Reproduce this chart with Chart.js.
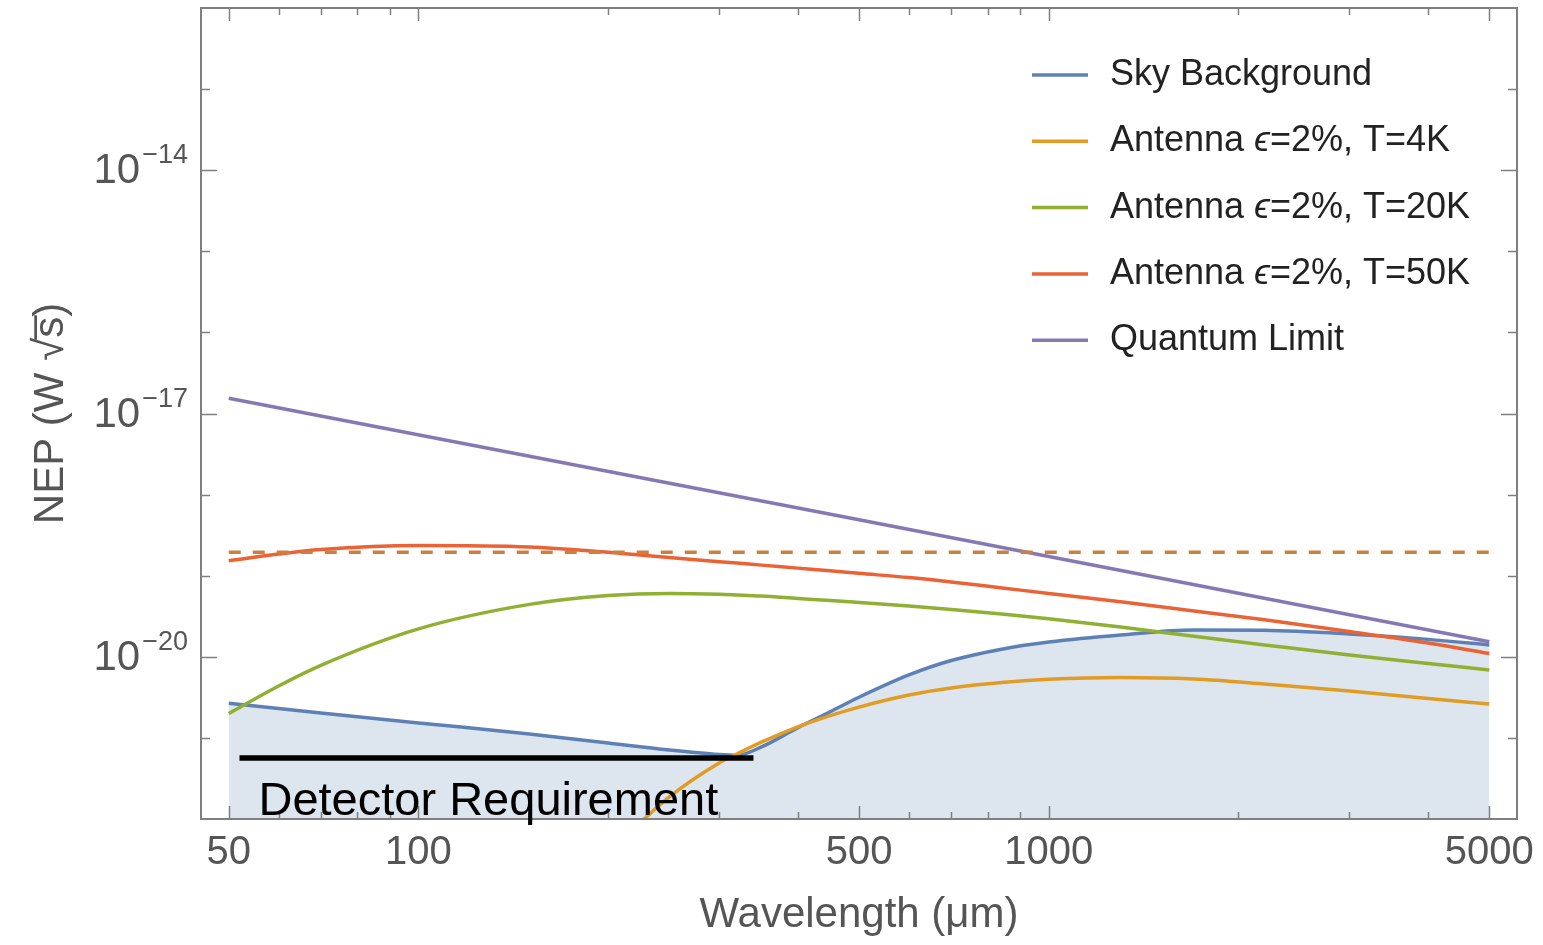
<!DOCTYPE html>
<html>
<head>
<meta charset="utf-8">
<script src="https://cdn.jsdelivr.net/npm/chart.js@4.4.1/dist/chart.umd.min.js"></script>
<style>
  html, body { margin: 0; padding: 0; background: #fff; }
  canvas { display: block; }
</style>
</head>
<body>
<canvas id="nep" width="1543" height="945"></canvas>
<script>
// wavelength in um, NEP in W sqrt(s)
const wavelength = [50, 60, 70, 100, 150, 200, 250, 300, 320, 350, 400, 450, 500, 600, 700, 850, 1000, 1300, 1700, 2200, 3000, 4000, 5000];

const skyBackground = [2.67e-21, 2.31e-21, 2.03e-21, 1.53e-21, 1.12e-21, 8.65e-22, 7.10e-22, 6.24e-22, 6.10e-22, 7.73e-22, 1.34e-21, 2.10e-21, 3.17e-21, 5.97e-21, 8.99e-21, 1.26e-20, 1.52e-20, 1.86e-20, 2.14e-20, 2.12e-20, 1.91e-20, 1.64e-20, 1.40e-20];
const antenna4K = [null, null, null, null, null, 3.8e-23, 1.87e-22, 4.91e-22, 6.32e-22, 8.85e-22, 1.37e-21, 1.88e-21, 2.40e-21, 3.38e-21, 4.12e-21, 4.84e-21, 5.28e-21, 5.56e-21, 5.32e-21, 4.62e-21, 3.79e-21, 3.06e-21, 2.62e-21];
const antenna20K = [2.00e-21, 4.37e-21, 7.85e-21, 2.21e-20, 4.43e-20, 5.70e-20, 6.04e-20, 5.92e-20, 5.80e-20, 5.62e-20, 5.24e-20, 4.94e-20, 4.67e-20, 4.23e-20, 3.83e-20, 3.35e-20, 2.94e-20, 2.33e-20, 1.79e-20, 1.40e-20, 1.05e-20, 8.26e-21, 6.87e-21];
const antenna50K = [1.53e-19, 1.85e-19, 2.10e-19, 2.36e-19, 2.26e-19, 1.94e-19, 1.68e-19, 1.49e-19, 1.43e-19, 1.35e-19, 1.24e-19, 1.15e-19, 1.07e-19, 9.48e-20, 8.36e-20, 7.01e-20, 6.05e-20, 4.76e-20, 3.67e-20, 2.86e-20, 2.05e-20, 1.48e-20, 1.10e-20];

const quantumWavelength = [50, 500, 5000];
const quantumLimit = [1.54e-17, 4.9e-19, 1.53e-20];

const dashedWavelength = [50, 5000];
const dashedLevel = [1.95e-19, 1.95e-19];

const detectorWavelength = [52, 340];
const detectorLevel = [5.65e-22, 5.65e-22];

const seriesLabels = ['Sky Background', 'Antenna ϵ=2%, T=4K', 'Antenna ϵ=2%, T=20K', 'Antenna ϵ=2%, T=50K', 'Quantum Limit'];
const seriesColors = ['#5e81b5', '#e19c24', '#8fb032', '#eb6235', '#8778b3'];

const xLabelTicks = [50, 100, 500, 1000, 5000];
const xMinorTicks = [60, 70, 80, 90, 200, 300, 400, 600, 700, 800, 900, 2000, 3000, 4000];
const yLabelTicks = [1e-20, 1e-17, 1e-14];
const yMinorTicks = [1e-21, 1e-19, 1e-18, 1e-16, 1e-15, 1e-13];

const FONT = '"Liberation Sans", Arial, "DejaVu Sans", sans-serif';

function pairs(xs, ys) {
  return xs.map((x, i) => ({ x: x, y: ys[i] }));
}

const frameTicks = {
  id: 'frameTicks',
  afterDraw(chart) {
    const { ctx, chartArea: a, scales: { x, y } } = chart;
    ctx.save();
    ctx.strokeStyle = '#7f7f7f';
    ctx.lineWidth = 2;
    ctx.strokeRect(a.left, a.top, a.right - a.left, a.bottom - a.top);

    ctx.lineWidth = 1.5;
    ctx.beginPath();
    const xt = (v, len) => {
      const px = Math.round(x.getPixelForValue(v)) + 0.5;
      ctx.moveTo(px, a.bottom); ctx.lineTo(px, a.bottom - len);
      ctx.moveTo(px, a.top); ctx.lineTo(px, a.top + len);
    };
    const yt = (v, len) => {
      const py = Math.round(y.getPixelForValue(v)) + 0.5;
      ctx.moveTo(a.left, py); ctx.lineTo(a.left + len, py);
      ctx.moveTo(a.right, py); ctx.lineTo(a.right - len, py);
    };
    xLabelTicks.forEach(v => xt(v, 13));
    xMinorTicks.forEach(v => xt(v, 7));
    yLabelTicks.forEach(v => yt(v, 16));
    yMinorTicks.forEach(v => yt(v, 9));
    ctx.stroke();

    // y tick labels as 10 with a raised exponent
    ctx.fillStyle = '#555';
    ctx.textAlign = 'right';
    ctx.textBaseline = 'alphabetic';
    yLabelTicks.forEach(v => {
      const py = y.getPixelForValue(v);
      const exp = '\u2212' + String(-Math.round(Math.log10(v)));
      ctx.font = '27px ' + FONT;
      const right = a.left - 13;
      ctx.fillText(exp, right, py - 7);
      const ew = ctx.measureText(exp).width;
      ctx.font = '42px ' + FONT;
      ctx.fillText('10', right - ew - 2, py + 13);
    });
    ctx.textAlign = 'left';

    // legend
    const lx = a.right - 485;
    const ly = a.top + 67;
    ctx.textBaseline = 'middle';
    seriesLabels.forEach((label, i) => {
      const ry = ly + i * 66.3;
      ctx.strokeStyle = seriesColors[i];
      ctx.lineWidth = 3.5;
      ctx.beginPath();
      ctx.moveTo(lx, ry); ctx.lineTo(lx + 56, ry);
      ctx.stroke();
      ctx.fillStyle = '#222';
      let tx = lx + 78;
      label.split(/(ϵ)/).forEach(part => {
        ctx.font = (part === 'ϵ' ? 'italic ' : '') + '36px ' + FONT;
        ctx.fillText(part, tx, ry);
        tx += ctx.measureText(part).width;
      });
    });

    ctx.font = '47px ' + FONT;
    ctx.fillStyle = '#000';
    ctx.textBaseline = 'alphabetic';
    ctx.fillText('Detector Requirement', x.getPixelForValue(detectorWavelength[0]) + 19, a.bottom - 4);
    ctx.restore();
  }
};

new Chart(document.getElementById('nep'), {
  type: 'line',
  data: {
    datasets: [
      { label: seriesLabels[0], data: pairs(wavelength, skyBackground), borderColor: seriesColors[0], backgroundColor: '#dde5ef', fill: 'start', order: 6 },
      { label: seriesLabels[1], data: pairs(wavelength, antenna4K), borderColor: seriesColors[1], order: 5 },
      { label: seriesLabels[2], data: pairs(wavelength, antenna20K), borderColor: seriesColors[2], order: 4 },
      { label: seriesLabels[3], data: pairs(wavelength, antenna50K), borderColor: seriesColors[3], order: 3 },
      { label: seriesLabels[4], data: pairs(quantumWavelength, quantumLimit), borderColor: seriesColors[4], order: 2 },
      { label: 'dashed', data: pairs(dashedWavelength, dashedLevel), borderColor: '#cc8040', borderDash: [12, 12], order: 1 },
      { label: 'Detector Requirement', data: pairs(detectorWavelength, detectorLevel), borderColor: '#000', borderWidth: 5.5, order: 0 }
    ]
  },
  options: {
    responsive: false,
    animation: false,
    devicePixelRatio: 1,
    layout: { padding: { top: 8, right: 26, left: 0, bottom: 0 } },
    plugins: {
      legend: { display: false },
      tooltip: { enabled: false },
      filler: { drawTime: 'beforeDatasetsDraw' }
    },
    elements: {
      point: { radius: 0 },
      line: { borderWidth: 3.5, cubicInterpolationMode: 'monotone', fill: false }
    },
    scales: {
      x: {
        type: 'logarithmic',
        min: 45.18,
        max: 5533,
        grid: { display: false, drawTicks: false },
        border: { display: false },
        afterBuildTicks: s => { s.ticks = xLabelTicks.map(v => ({ value: v })); },
        afterFit: s => { s.height = 126; s.paddingLeft = 0; s.paddingRight = 0; },
        ticks: {
          autoSkip: false, maxRotation: 0, padding: 10, color: '#555',
          font: { family: FONT, size: 40 },
          callback: v => String(v)
        },
        title: {
          display: true, text: 'Wavelength (μm)', color: '#555',
          font: { family: FONT, size: 42 }, padding: { top: 0, bottom: 4 }
        }
      },
      y: {
        type: 'logarithmic',
        min: 1e-22,
        max: 1e-12,
        grid: { display: false, drawTicks: false },
        border: { display: false },
        afterBuildTicks: s => { s.ticks = yLabelTicks.map(v => ({ value: v })); },
        afterFit: s => { s.width = 201; s.paddingTop = 0; s.paddingBottom = 0; },
        ticks: { display: false },
        title: {
          display: true, text: 'NEP (W √s̅)', color: '#555',
          font: { family: FONT, size: 42 }, padding: { top: 26, bottom: 0 }
        }
      }
    }
  },
  plugins: [frameTicks]
});
</script>
</body>
</html>
